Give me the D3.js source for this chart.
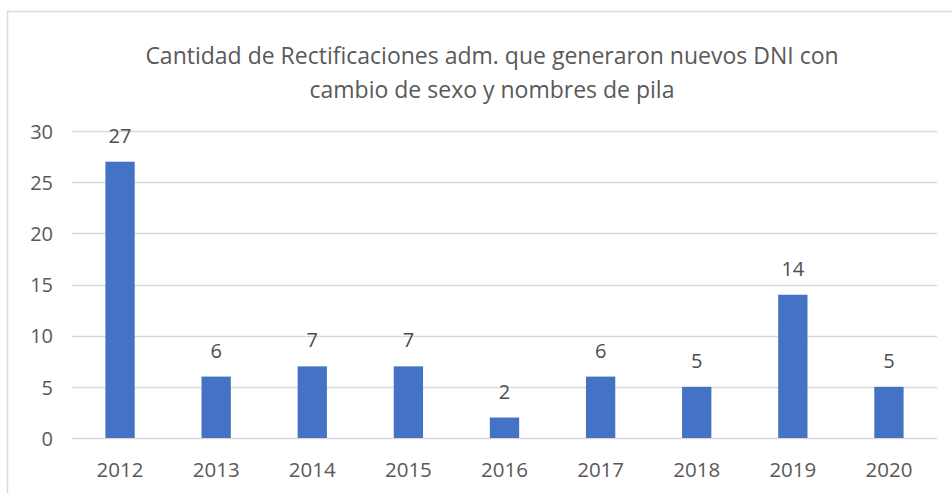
<!DOCTYPE html>
<html>
<head>
<meta charset="utf-8">
<script src="https://cdn.jsdelivr.net/npm/d3@7"></script>
<style>
  body { margin: 0; background: #fff; }
  svg { display: block; }
</style>
</head>
<body>
<div class="chart"></div>
<script>
var years = ['2012', '2013', '2014', '2015', '2016', '2017', '2018', '2019', '2020'];
var counts = [27, 6, 7, 7, 2, 6, 5, 14, 5];
var yTicks = [0, 5, 10, 15, 20, 25, 30];
var titleLines = [
    'Cantidad de Rectificaciones adm. que generaron nuevos DNI con',
    'cambio de sexo y nombres de pila'
];

var width = 952;
var height = 493;
var margin = { top: 131, right: 15, bottom: 55, left: 72 };

var svg = d3.select('.chart')
    .append('svg')
    .attr('width', width)
    .attr('height', height);

// chart frame (cut off on right and bottom like the screenshot)
svg.append('path')
    .attr('d', 'M7.5,' + height + ' V11.5 H' + width)
    .attr('fill', 'none')
    .attr('stroke', '#d9d9d9')
    .attr('stroke-width', 1.5);

var x = d3.scaleBand()
    .domain(years)
    .range([margin.left, width - margin.right])
    .paddingInner(0.695)
    .paddingOuter(0.3475);

var y = d3.scaleLinear()
    .domain([0, 30])
    .range([height - margin.bottom, margin.top]);

svg.append('g')
    .attr('class', 'grid')
    .selectAll('line')
    .data(yTicks)
    .enter()
    .append('line')
    .attr('x1', margin.left)
    .attr('x2', width - margin.right)
    .attr('y1', function(d) { return Math.round(y(d)) + 0.5; })
    .attr('y2', function(d) { return Math.round(y(d)) + 0.5; })
    .attr('stroke', '#d9d9d9')
    .attr('stroke-width', 1.5);

var yAxis = svg.append('g')
    .attr('transform', 'translate(' + (margin.left - 19) + ',0)')
    .call(d3.axisLeft(y).tickValues(yTicks).tickSize(0).tickPadding(0));
yAxis.select('.domain').remove();
yAxis.selectAll('text')
    .attr('fill', '#595959')
    .attr('font-family', '"Open Sans", sans-serif')
    .attr('font-size', 20)
    .attr('dy', '0.36em');

var xAxis = svg.append('g')
    .attr('transform', 'translate(0,' + (height - margin.bottom) + ')')
    .call(d3.axisBottom(x).tickSize(0).tickPadding(24));
xAxis.select('.domain').remove();
xAxis.selectAll('text')
    .attr('fill', '#595959')
    .attr('font-family', '"Open Sans", sans-serif')
    .attr('font-size', 20.5);

svg.append('g')
    .selectAll('text')
    .data(counts)
    .enter()
    .append('text')
    .attr('x', function(d, i) { return x(years[i]) + x.bandwidth() / 2; })
    .attr('y', function(d) { return y(d) - 19; })
    .attr('text-anchor', 'middle')
    .attr('fill', '#4d4d4d')
    .attr('font-family', '"Open Sans", sans-serif')
    .attr('font-size', 20)
    .text(function(d) { return d; });

svg.append('g')
    .selectAll('rect')
    .data(counts)
    .enter()
    .append('rect')
    .attr('x', function(d, i) { return x(years[i]); })
    .attr('y', function(d) { return y(d); })
    .attr('width', x.bandwidth())
    .attr('height', function(d) { return y(0) - y(d); })
    .attr('fill', '#4472c4');

svg.append('g')
    .selectAll('text')
    .data(titleLines)
    .enter()
    .append('text')
    .attr('x', 492)
    .attr('y', function(d, i) { return 64 + i * 34; })
    .attr('text-anchor', 'middle')
    .attr('fill', '#595959')
    .attr('font-family', '"Open Sans", sans-serif')
    .attr('font-size', 23)
    .text(function(d) { return d; });
</script>
</body>
</html>
